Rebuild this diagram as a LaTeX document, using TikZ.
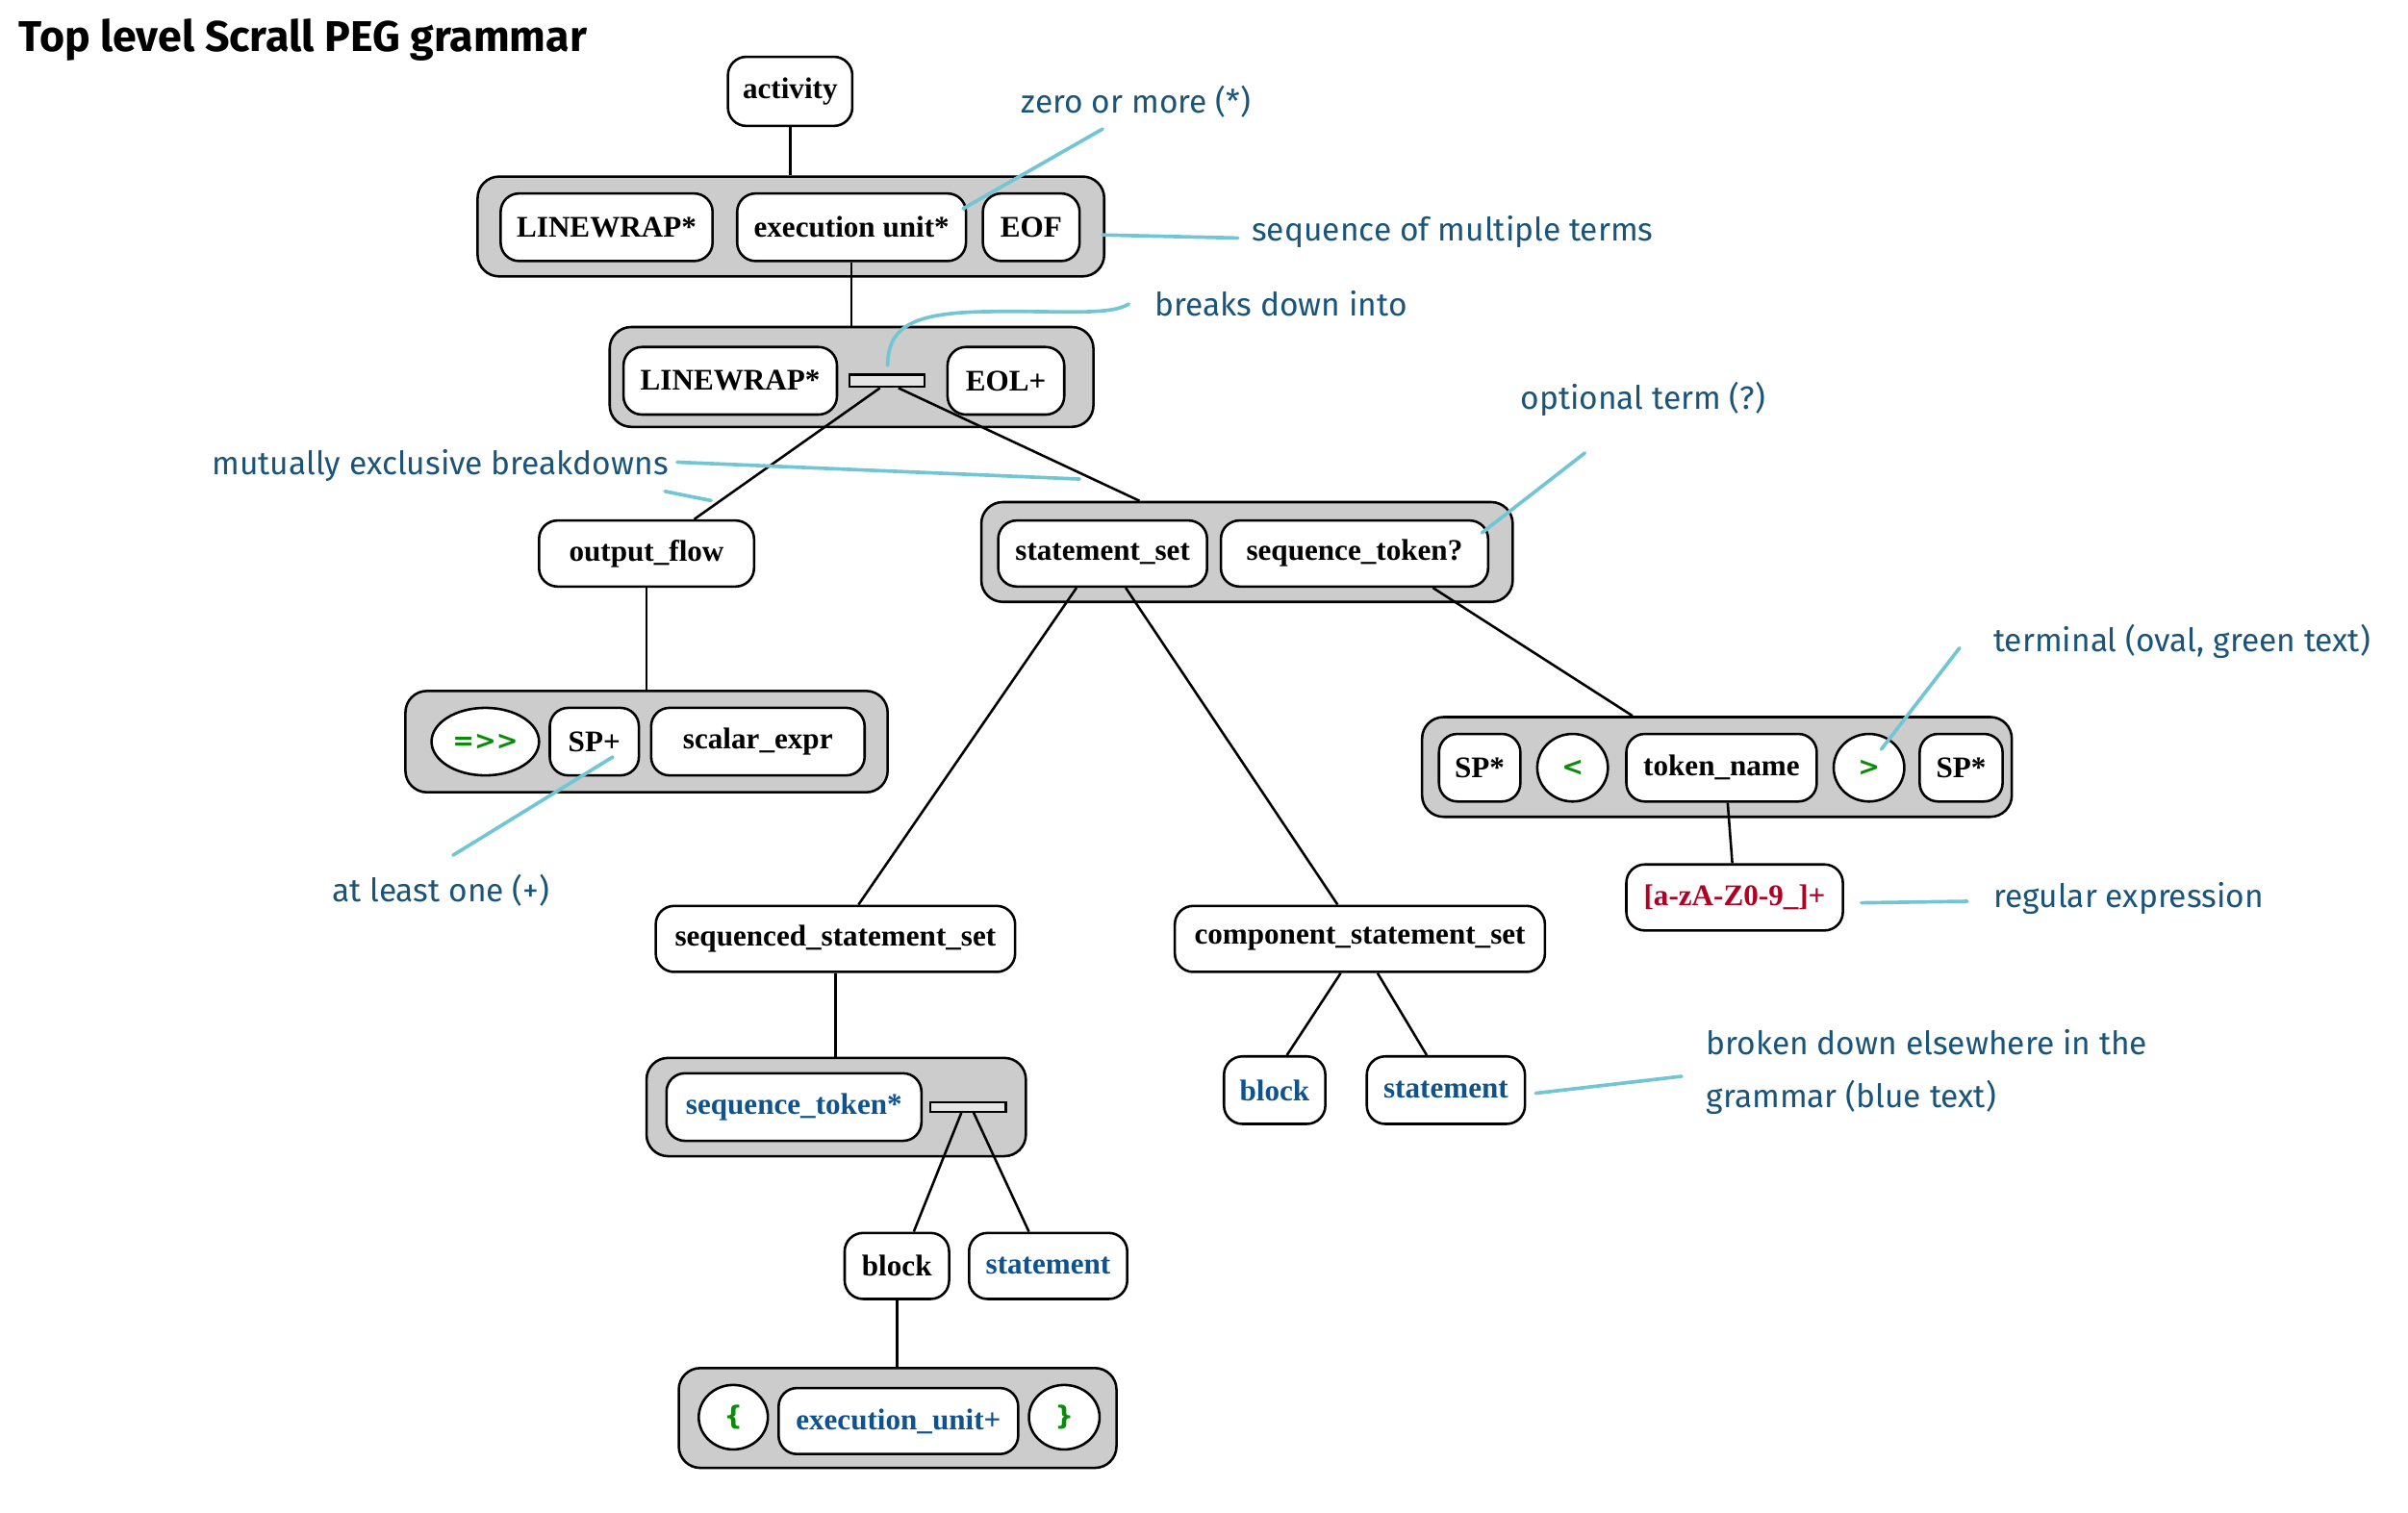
\documentclass[tikz,border=0pt]{standalone}
\usepackage{fontspec}
\setmainfont{Liberation Serif}
\newfontfamily\titlefont{Fira Sans}
\newfontfamily\handfont{Fira Sans}
\newfontfamily\symfont{DejaVu Sans}
\usetikzlibrary{shapes.geometric}
\definecolor{grpgray}{HTML}{CCCCCC}
\definecolor{termgreen}{RGB}{10,140,10}
\definecolor{refblue}{RGB}{16,82,140}
\definecolor{regred}{RGB}{176,0,36}
\definecolor{notetext}{RGB}{26,84,120}
\definecolor{noteline}{RGB}{114,198,212}
\tikzset{
  x=1pt, y=-1pt,
  term/.style={draw, fill=white, rounded corners=12pt, line width=1.6pt, inner sep=0pt,
    font=\fontsize{19.5}{21}\selectfont\bfseries, align=center},
  grp/.style={draw, fill=grpgray, rounded corners=14pt, line width=1.6pt, inner sep=0pt},
  oval/.style={ellipse, draw, fill=white, line width=1.6pt, inner sep=0pt,
    font=\symfont\fontsize{17}{20}\selectfont\bfseries, text=termgreen},
  barbox/.style={draw, fill=gray!20, line width=1.4pt, inner sep=0pt},
  conn/.style={line width=1.6pt, black},
  note/.style={font=\handfont\fontsize{21}{35}\selectfont, text=notetext, inner sep=0pt, anchor=west, align=left},
  noteln/.style={line width=2.3pt, noteline, line cap=round},
  sz/.style 2 args={minimum width=#1pt, minimum height=#2pt}
}
\begin{document}
\begin{tikzpicture}
\useasboundingbox (0,0) rectangle (1568,985);

\node[anchor=west, inner sep=0pt, font=\titlefont\bfseries\fontsize{28}{30}\selectfont] (title) at (12,26) {Top level Scrall PEG grammar};

% groups first
\node[grp, sz={408}{65}] (g1) at (515,147.5) {};
\node[grp, sz={315}{65}] (g2) at (554.5,245.5) {};
\node[grp, sz={346}{65}] (g3) at (812,359.5) {};
\node[grp, sz={314}{66}] (g4) at (421,483) {};
\node[grp, sz={384}{65}] (g5) at (1118,499.5) {};
\node[grp, sz={247}{64}] (g6) at (544.5,721) {};
\node[grp, sz={285}{65}] (g7) at (584.5,923.5) {};

% terms
\node[term, sz={81}{45}] (activity) at (514.5,59.5) {activity};
\node[term, sz={138}{44}] (lw1) at (395,148) {LINEWRAP*};
\node[term, sz={149}{44}] (eu) at (554.5,148) {execution unit*};
\node[term, sz={63}{44}] (eof) at (671.5,148) {EOF};

\node[term, sz={139}{44}] (lw2) at (475.5,248) {LINEWRAP*};
\node[barbox, sz={49}{8}] (bar2) at (577.5,248) {};
\node[term, sz={76}{44}] (eol) at (655,248) {EOL+};

\node[term, sz={140}{43}] (of) at (421,360.5) {output\_flow};
\node[term, sz={136}{43}] (ss) at (718,360.5) {statement\_set};
\node[term, sz={174}{43}] (stq) at (882,360.5) {sequence\_token?};

\node[oval, sz={70}{44}] (arr) at (316,483) {=>\kern0pt>};
\node[term, sz={58}{44}] (spp) at (387,483) {SP+};
\node[term, sz={139}{44}] (se) at (493.5,483) {scalar\_expr};

\node[term, sz={53}{44}] (sp1) at (963.5,500) {SP*};
\node[oval, sz={46}{44}] (lt) at (1024,500) {<};
\node[term, sz={124}{44}] (tn) at (1121,500) {token\_name};
\node[oval, sz={46}{44}] (gt) at (1217,500) {>};
\node[term, sz={54}{44}] (sp2) at (1277,500) {SP*};

\node[term, sz={141}{43}, text=regred] (rx) at (1129.5,584.5) {[a-zA-Z0-9\_]+};

\node[term, sz={234}{43}] (sss) at (544,611.5) {sequenced\_statement\_set};
\node[term, sz={241}{43}] (css) at (885.5,611.5) {component\_statement\_set};

\node[term, sz={66}{44}, text=refblue] (blk1) at (830,710) {block};
\node[term, sz={103}{44}, text=refblue] (st1) at (941.5,710) {statement};

\node[term, sz={166}{44}, text=refblue] (stk) at (517,721) {sequence\_token*};
\node[barbox, sz={49}{6}] (bar6) at (630.5,721) {};

\node[term, sz={68}{43}] (blk2) at (584,824.5) {block};
\node[term, sz={103}{43}, text=refblue] (st2) at (682.5,824.5) {statement};

\node[oval, sz={45}{42}] (lb) at (477.5,923) {\{};
\node[term, sz={156}{43}, text=refblue] (eu2) at (585,925.5) {execution\_unit+};
\node[oval, sz={46}{42}] (rb) at (693,923) {\}};

% connectors
\draw[conn] (activity.south) -- (activity.south |- g1.north);
\draw[conn] (eu.south) -- (eu.south |- g2.north);
\draw[conn] ([xshift=-4.5pt]bar2.south) -- ([xshift=31pt]of.north);
\draw[conn] ([xshift=7.5pt]bar2.south) -- ([xshift=-70pt]g3.north);
\draw[conn] (of.south) -- (of.south |- g4.north);
\draw[conn] ([xshift=-17pt]ss.south) -- ([xshift=15pt]sss.north);
\draw[conn] ([xshift=15pt]ss.south) -- ([xshift=-14.5pt]css.north);
\draw[conn] ([xshift=51pt]stq.south) -- ([xshift=-55pt]g5.north);
\draw[conn] ([xshift=4pt]tn.south) -- ([xshift=-1.5pt]rx.north);
\draw[conn] (sss.south) -- (sss.south |- g6.north);
\draw[conn] ([xshift=-12.5pt]css.south) -- ([xshift=8pt]blk1.north);
\draw[conn] ([xshift=11.5pt]css.south) -- ([xshift=-12.5pt]st1.north);
\draw[conn] ([xshift=-4.5pt]bar6.south) -- ([xshift=11pt]blk2.north);
\draw[conn] ([xshift=3.5pt]bar6.south) -- ([xshift=-12.5pt]st2.north);
\draw[conn] (blk2.south) -- (blk2.south |- g7.north);

% annotations
\node[note] (n1) at (665,66) {zero or more (*)};
\node[note] (n2) at (815,151) {sequence of multiple terms};
\node[note] (n3) at (752,198) {breaks down into};
\node[note] (n4) at (990,260) {optional term (?)};
\node[note] (n5) at (138,303) {mutually exclusive breakdowns};
\node[note] (n6) at (1298,418) {terminal (oval, green text)};
\node[note] (n7) at (1298,585) {regular expression};
\node[note] (n8) at (216,580) {at least one (+)};
\node[note, anchor=north west] (n9) at (1111,670) {broken down elsewhere in the\\grammar (blue text)};

\coordinate (c1a) at (718,84);   \coordinate (c1b) at (627,136);
\coordinate (c2a) at (718,153);  \coordinate (c2b) at (806,155);
\coordinate (c3a) at (578,238);  \coordinate (c3b) at (735,198);
\coordinate (c4a) at (1032,295); \coordinate (c4b) at (965,347);
\coordinate (c5a) at (441,301);  \coordinate (c5b) at (703,312);
\coordinate (c5c) at (433,320);  \coordinate (c5d) at (463,326);
\coordinate (c6a) at (1276,422); \coordinate (c6b) at (1225,488);
\coordinate (c7a) at (1212,588); \coordinate (c7b) at (1281,587);
\coordinate (c8a) at (295,557);  \coordinate (c8b) at (399,493);
\coordinate (c9a) at (1000,712); \coordinate (c9b) at (1095,701);

\draw[noteln] (c1a) -- (c1b);
\draw[noteln] (c2a) -- (c2b);
\draw[noteln] (c3a) .. controls (578,212) and (596,204) .. (640,203) .. controls (690,202) and (722,206) .. (c3b);
\draw[noteln] (c4a) -- (c4b);
\draw[noteln] (c5a) -- (c5b);
\draw[noteln] (c5c) -- (c5d);
\draw[noteln] (c6a) -- (c6b);
\draw[noteln] (c7a) -- (c7b);
\draw[noteln] (c8a) -- (c8b);
\draw[noteln] (c9a) -- (c9b);
\end{tikzpicture}
\end{document}
